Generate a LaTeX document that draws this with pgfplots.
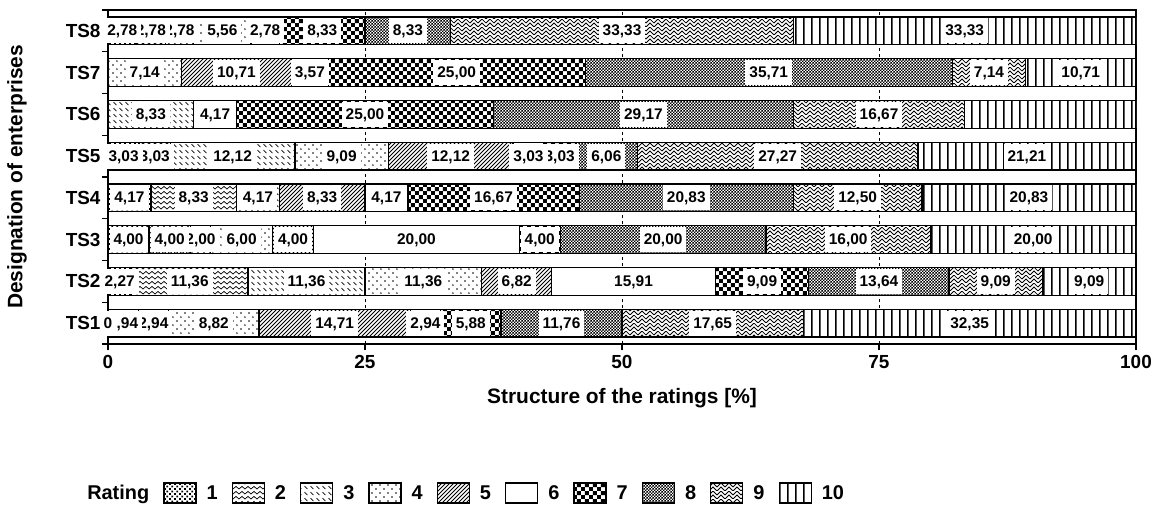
\documentclass[border=0pt]{standalone}
\usepackage{pgfplots}
\pgfplotsset{compat=1.18}
\usepackage{pgfplotstable}
\usepackage{fontspec}
\setmainfont{Liberation Sans}
\usetikzlibrary{patterns}

% ---------- patterns ----------
\pgfdeclarepatternformonly{pA}{\pgfqpoint{0pt}{0pt}}{\pgfqpoint{5pt}{5pt}}{\pgfqpoint{5pt}{5pt}}{%
  \pgfpathrectangle{\pgfqpoint{0pt}{0pt}}{\pgfqpoint{2pt}{2pt}}%
  \pgfpathrectangle{\pgfqpoint{2.5pt}{2.7pt}}{\pgfqpoint{1.6pt}{1.6pt}}%
  \pgfusepath{fill}}
\pgfdeclarepatternformonly{pB}{\pgfqpoint{0pt}{0pt}}{\pgfqpoint{6pt}{5pt}}{\pgfqpoint{6pt}{5pt}}{%
  \pgfsetlinewidth{0.7pt}%
  \pgfpathmoveto{\pgfqpoint{0pt}{1pt}}\pgfpathlineto{\pgfqpoint{3pt}{3.6pt}}\pgfpathlineto{\pgfqpoint{6pt}{1pt}}%
  \pgfusepath{stroke}}
\pgfdeclarepatternformonly{pC}{\pgfqpoint{0pt}{0pt}}{\pgfqpoint{6pt}{6pt}}{\pgfqpoint{6pt}{6pt}}{%
  \pgfsetlinewidth{0.7pt}%
  \pgfpathmoveto{\pgfqpoint{0.5pt}{5pt}}\pgfpathlineto{\pgfqpoint{3.5pt}{2pt}}%
  \pgfusepath{stroke}}
\pgfdeclarepatternformonly{pD}{\pgfqpoint{0pt}{0pt}}{\pgfqpoint{8pt}{8pt}}{\pgfqpoint{8pt}{8pt}}{%
  \pgfpathcircle{\pgfqpoint{2pt}{2pt}}{0.8pt}%
  \pgfpathcircle{\pgfqpoint{6pt}{6pt}}{0.8pt}%
  \pgfusepath{fill}}
\pgfdeclarepatternformonly{pE}{\pgfqpoint{0pt}{0pt}}{\pgfqpoint{4pt}{4pt}}{\pgfqpoint{4pt}{4pt}}{%
  \pgfsetlinewidth{0.8pt}%
  \pgfpathmoveto{\pgfqpoint{-1pt}{-1pt}}\pgfpathlineto{\pgfqpoint{5pt}{5pt}}%
  \pgfpathmoveto{\pgfqpoint{-1pt}{3pt}}\pgfpathlineto{\pgfqpoint{1pt}{5pt}}%
  \pgfpathmoveto{\pgfqpoint{3pt}{-1pt}}\pgfpathlineto{\pgfqpoint{5pt}{1pt}}%
  \pgfusepath{stroke}}
\pgfdeclarepatternformonly{pG}{\pgfqpoint{0pt}{0pt}}{\pgfqpoint{8pt}{8pt}}{\pgfqpoint{8pt}{8pt}}{%
  \pgfpathrectangle{\pgfqpoint{0pt}{0pt}}{\pgfqpoint{4pt}{4pt}}%
  \pgfpathrectangle{\pgfqpoint{4pt}{4pt}}{\pgfqpoint{4pt}{4pt}}%
  \pgfusepath{fill}}
\pgfdeclarepatternformonly{pH}{\pgfqpoint{0pt}{0pt}}{\pgfqpoint{3pt}{3pt}}{\pgfqpoint{3pt}{3pt}}{%
  \pgfpathrectangle{\pgfqpoint{0pt}{0pt}}{\pgfqpoint{1.5pt}{1.5pt}}%
  \pgfpathrectangle{\pgfqpoint{1.5pt}{1.5pt}}{\pgfqpoint{1.5pt}{1.5pt}}%
  \pgfusepath{fill}}
\pgfdeclarepatternformonly{pI}{\pgfqpoint{0pt}{0pt}}{\pgfqpoint{8pt}{8pt}}{\pgfqpoint{8pt}{8pt}}{%
  \pgfsetlinewidth{0.8pt}%
  \pgfpathmoveto{\pgfqpoint{0pt}{0pt}}\pgfpathlineto{\pgfqpoint{4pt}{4pt}}\pgfpathlineto{\pgfqpoint{8pt}{0pt}}%
  \pgfpathmoveto{\pgfqpoint{0pt}{4pt}}\pgfpathlineto{\pgfqpoint{4pt}{8pt}}\pgfpathlineto{\pgfqpoint{8pt}{4pt}}%
  \pgfusepath{stroke}}
\pgfdeclarepatternformonly{pJ}{\pgfqpoint{0pt}{0pt}}{\pgfqpoint{8.5pt}{4pt}}{\pgfqpoint{8.5pt}{4pt}}{%
  \pgfpathrectangle{\pgfqpoint{0pt}{0pt}}{\pgfqpoint{1.7pt}{4pt}}%
  \pgfusepath{fill}}

% ---------- data: one table per rating (y: 1=TS1 ... 8=TS8) ----------
\pgfplotstableread{
y v lab
1 0 0
2 2.27 2,27
3 4.00 4,00
4 4.17 4,17
5 3.03 3,03
6 0 -
7 0 -
8 2.78 2,78
}\rA
\pgfplotstableread{
y v lab
1 2.94 2,94
2 11.36 11,36
3 4.00 4,00
4 8.33 8,33
5 3.03 3,03
6 0 -
7 0 -
8 2.78 2,78
}\rB
\pgfplotstableread{
y v lab
1 2.94 2,94
2 11.36 11,36
3 2.00 2,00
4 4.17 4,17
5 12.12 12,12
6 8.33 8,33
7 0 -
8 2.78 2,78
}\rC
\pgfplotstableread{
y v lab
1 8.82 8,82
2 11.36 11,36
3 6.00 6,00
4 0 -
5 9.09 9,09
6 0 -
7 7.14 7,14
8 5.56 5,56
}\rD
\pgfplotstableread{
y v lab
1 14.71 14,71
2 6.82 6,82
3 4.00 4,00
4 8.33 8,33
5 12.12 12,12
6 0 -
7 10.71 10,71
8 0 -
}\rE
\pgfplotstableread{
y v lab
1 2.94 2,94
2 15.91 15,91
3 20.00 20,00
4 4.17 4,17
5 3.03 3,03
6 4.17 4,17
7 3.57 3,57
8 2.78 2,78
}\rF
\pgfplotstableread{
y v lab
1 5.88 5,88
2 9.09 9,09
3 4.00 4,00
4 16.67 16,67
5 3.03 3,03
6 25.00 25,00
7 25.00 25,00
8 8.33 8,33
}\rG
\pgfplotstableread{
y v lab
1 11.76 11,76
2 13.64 13,64
3 20.00 20,00
4 20.83 20,83
5 6.06 6,06
6 29.17 29,17
7 35.71 35,71
8 8.33 8,33
}\rH
\pgfplotstableread{
y v lab
1 17.65 17,65
2 9.09 9,09
3 16.00 16,00
4 12.50 12,50
5 27.27 27,27
6 16.67 16,67
7 7.14 7,14
8 33.33 33,33
}\rI
\pgfplotstableread{
y v lab
1 32.35 32,35
2 9.09 9,09
3 20.00 20,00
4 20.83 20,83
5 21.21 21,21
6 16.67 16,67
7 10.71 10,71
8 33.33 33,33
}\rJ

\newcommand\mylab{\if-\pgfplotspointmeta\else\setlength\fboxsep{0pt}\colorbox{white}{\hspace{4bp}\rule[-7.5bp]{0pt}{25bp}\pgfplotspointmeta\hspace{4bp}}\fi}

\pgfplotsset{
  geom/.style={width=1028bp, height=334bp, scale only axis,
    at={(108bp,170bp)}, anchor=south west,
    xmin=0, xmax=100, ymin=0.5, ymax=8.5},
  common/.style={geom, xbar stacked, bar width=0.667},
  labstyle/.style={hide axis,
    point meta=explicit symbolic,
    nodes near coords={\mylab},
    every node near coord/.append style={inner sep=0pt, anchor=center,
      font=\bfseries\fontsize{15.5}{15.5}\selectfont}},
  pbar/.style={fill=white, draw=black, line width=1.3bp, postaction={pattern=#1},
    legend image code/.code={\draw[##1] (0bp,-10bp) rectangle (32bp,10bp);}},
  wbar/.style={fill=white, draw=black, line width=1.3bp,
    legend image code/.code={\draw[##1] (0bp,-10bp) rectangle (32bp,10bp);}},
}

\begin{document}
\begin{tikzpicture}
\path[use as bounding box] (0,0) rectangle (1167bp,514bp);
\begin{axis}[common,
  axis line style={line width=1.4bp},
  xtick={0,25,50,75,100},
  ytick={1,...,8}, yticklabels={TS1,TS2,TS3,TS4,TS5,TS6,TS7,TS8},
  minor xtick={0,25,50,75,100},
  minor ytick={0.5,1.5,...,8.5},
  major tick length=0pt, minor tick length=6bp, tick align=outside,
  xtick pos=bottom, ytick pos=left,
  minor tick style={line width=1.4bp, black},
  xmajorgrids, major grid style={dashed, black, line width=0.7bp},
  tick label style={font=\bfseries\fontsize{19}{19}\selectfont},
  /pgf/number format/assume math mode=true,
  xticklabel style={yshift=-8bp},
  yticklabel style={xshift=-4bp},
  xlabel={Structure of the ratings [\%]},
  ylabel={Designation of enterprises},
  label style={font=\bfseries\fontsize{21}{21}\selectfont},
  x label style={at={(axis description cs:0.5,-0.163)}, anchor=center},
  y label style={at={(axis description cs:-0.0885,0.5)}, anchor=center},
  legend columns=11,
  legend style={at={(axis description cs:-0.033,-0.446)}, anchor=west, draw=none, fill=none,
    font=\bfseries\fontsize{20}{20}\selectfont,
    /tikz/every odd column/.append style={column sep=8bp},
    /tikz/every even column/.append style={column sep=12bp}},
]
\addlegendimage{empty legend}\addlegendentry{Rating}
\addplot[pbar=pA] table[x=v, y=y] {\rA};\addlegendentry{1}
\addplot[pbar=pB] table[x=v, y=y] {\rB};\addlegendentry{2}
\addplot[pbar=pC] table[x=v, y=y] {\rC};\addlegendentry{3}
\addplot[pbar=pD] table[x=v, y=y] {\rD};\addlegendentry{4}
\addplot[pbar=pE] table[x=v, y=y] {\rE};\addlegendentry{5}
\addplot[wbar] table[x=v, y=y] {\rF};\addlegendentry{6}
\addplot[pbar=pG] table[x=v, y=y] {\rG};\addlegendentry{7}
\addplot[pbar=pH] table[x=v, y=y] {\rH};\addlegendentry{8}
\addplot[pbar=pI] table[x=v, y=y] {\rI};\addlegendentry{9}
\addplot[pbar=pJ] table[x=v, y=y] {\rJ};\addlegendentry{10}
\end{axis}
\begin{axis}[common, labstyle]
\addplot[draw=none, fill=none] table[x=v, y=y, meta=lab] {\rA};
\addplot[draw=none, fill=none] table[x=v, y=y, meta=lab] {\rB};
\addplot[draw=none, fill=none] table[x=v, y=y, meta=lab] {\rC};
\addplot[draw=none, fill=none] table[x=v, y=y, meta=lab] {\rD};
\addplot[draw=none, fill=none] table[x=v, y=y, meta=lab] {\rE};
\addplot[draw=none, fill=none] table[x=v, y=y, meta=lab] {\rF};
\addplot[draw=none, fill=none] table[x=v, y=y, meta=lab] {\rG};
\addplot[draw=none, fill=none] table[x=v, y=y, meta=lab] {\rH};
\addplot[draw=none, fill=none] table[x=v, y=y, meta=lab] {\rI};
\addplot[draw=none, fill=none] table[x=v, y=y, meta=lab] {\rJ};
\end{axis}
% the zero share of rating 1 in TS1 keeps its label "0" on top, as in the reference
\begin{axis}[geom, labstyle, clip=false]
\addplot[only marks, mark=none, y filter/.expression={y==1 ? y : nan}]
  table[x=v, y=y, meta=lab] {\rA};
\end{axis}
\end{tikzpicture}
\end{document}
